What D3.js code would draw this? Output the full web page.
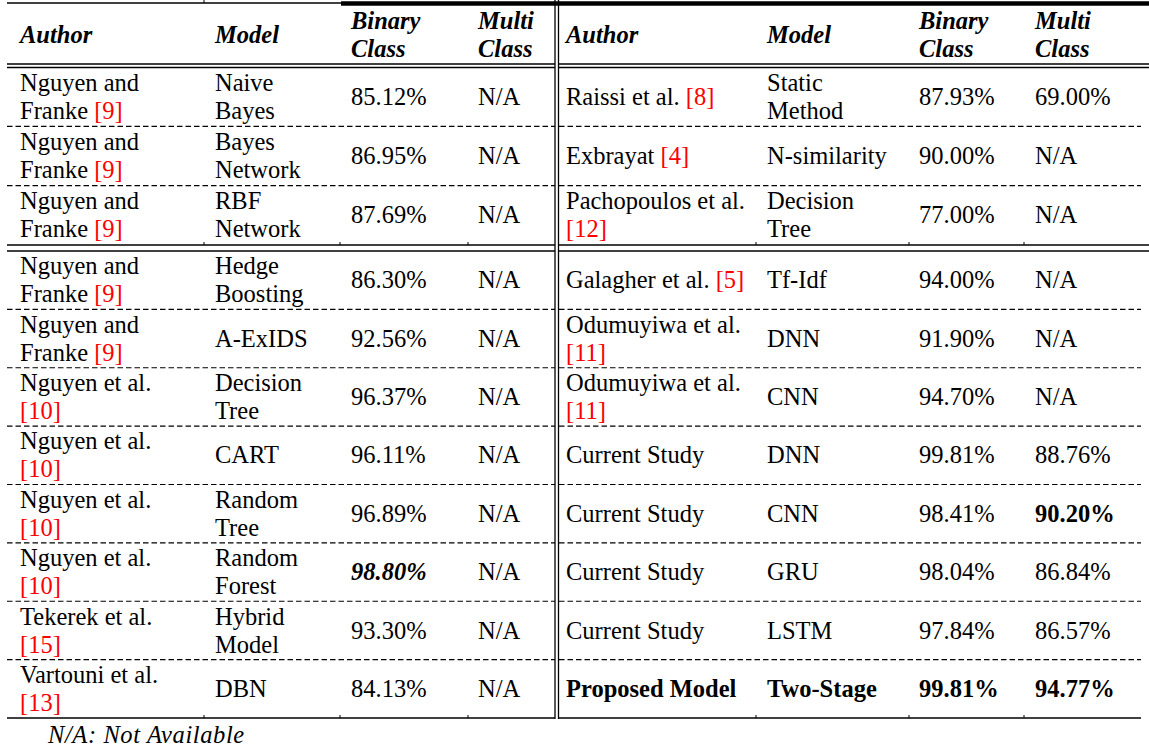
<!DOCTYPE html>
<html>
<head>
<meta charset="utf-8">
<script src="https://cdn.jsdelivr.net/npm/d3@7"></script>
<style>
  html, body { margin: 0; padding: 0; background: #fff; }
  svg { display: block; }
  text { font-family: "Liberation Serif", "Times New Roman", serif; font-size: 24.5px; fill: #000; }
</style>
</head>
<body>
<svg id="tbl"></svg>
<script>
// table content
const headers = ["Author", "Model", "Binary\nClass", "Multi\nClass"];

const leftAuthors = [
  "Nguyen and\nFranke [9]", "Nguyen and\nFranke [9]", "Nguyen and\nFranke [9]",
  "Nguyen and\nFranke [9]", "Nguyen and\nFranke [9]", "Nguyen et al.\n[10]",
  "Nguyen et al.\n[10]", "Nguyen et al.\n[10]", "Nguyen et al.\n[10]",
  "Tekerek et al.\n[15]", "Vartouni et al.\n[13]"
];
const leftModels = [
  "Naive\nBayes", "Bayes\nNetwork", "RBF\nNetwork", "Hedge\nBoosting", "A-ExIDS",
  "Decision\nTree", "CART", "Random\nTree", "Random\nForest", "Hybrid\nModel", "DBN"
];
const leftBinary = ["85.12%", "86.95%", "87.69%", "86.30%", "92.56%", "96.37%",
  "96.11%", "96.89%", "98.80%", "93.30%", "84.13%"];
const leftMulti = ["N/A", "N/A", "N/A", "N/A", "N/A", "N/A", "N/A", "N/A", "N/A", "N/A", "N/A"];

const rightAuthors = [
  "Raissi et al. [8]", "Exbrayat [4]", "Pachopoulos et al.\n[12]", "Galagher et al. [5]",
  "Odumuyiwa et al.\n[11]", "Odumuyiwa et al.\n[11]", "Current Study", "Current Study",
  "Current Study", "Current Study", "Proposed Model"
];
const rightModels = [
  "Static\nMethod", "N-similarity", "Decision\nTree", "Tf-Idf", "DNN", "CNN",
  "DNN", "CNN", "GRU", "LSTM", "Two-Stage"
];
const rightBinary = ["87.93%", "90.00%", "77.00%", "94.00%", "91.90%", "94.70%",
  "99.81%", "98.41%", "98.04%", "97.84%", "99.81%"];
const rightMulti = ["69.00%", "N/A", "N/A", "N/A", "N/A", "N/A",
  "88.76%", "90.20%", "86.84%", "86.57%", "94.77%"];

const footnote = "N/A: Not Available";

// emphasised cells: [side, row, col, style]
const emphasis = [
  ["L", 8, 2, "bi"],
  ["R", 7, 3, "b"],
  ["R", 10, 0, "b"], ["R", 10, 1, "b"], ["R", 10, 2, "b"], ["R", 10, 3, "b"]
];

// layout
const W = 1149, H = 752;
const lineGap = 28;
const svg = d3.select("#tbl").attr("width", W).attr("height", H);
svg.append("rect").attr("width", W).attr("height", H).attr("fill", "#fff");

const sides = {
  L: { edges: [7, 204, 340, 468, 555], textX: [20, 215, 351, 478], end: 555,
       cols: [leftAuthors, leftModels, leftBinary, leftMulti] },
  R: { edges: [559, 756, 909, 1024, 1141], textX: [566, 767, 919, 1035], end: 1149,
       cols: [rightAuthors, rightModels, rightBinary, rightMulti] }
};

const nRows = leftAuthors.length;
const y1 = d3.scaleLinear().domain([0, 3]).range([67, 245]);
const y2 = d3.scaleLinear().domain([3, nRows]).range([251, 718]);
const rowTop = i => i < 3 ? y1(i) : y2(i);
const rowBot = i => i < 2 ? y1(i + 1) : (i === 2 ? 245 : y2(i + 1));
const rowMid = i => (rowTop(i) + rowBot(i)) / 2;

function cellText(g, x, yc, str, style) {
  const lines = str.split("\n");
  lines.forEach((ln, k) => {
    const t = g.append("text")
      .attr("x", x)
      .attr("y", yc + (k - (lines.length - 1) / 2) * lineGap)
      .attr("dy", "0.33em");
    if (style && style.includes("b")) t.attr("font-weight", "bold");
    if (style && style.includes("i")) t.attr("font-style", "italic");
    ln.split(/(\[\d+\])/).filter(s => s.length).forEach(part => {
      const ts = t.append("tspan").text(part);
      if (/^\[\d+\]$/.test(part)) ts.attr("fill", "#ff0000");
    });
  });
}

const lines = svg.append("g").attr("stroke", "#000").attr("fill", "none");
const hline = (x0, x1, y, w, dash) => {
  const l = lines.append("line").attr("x1", x0).attr("x2", x1).attr("y1", y).attr("y2", y)
    .attr("stroke-width", w || 1.3);
  if (dash) l.attr("stroke-dasharray", dash);
};

// top rules
hline(7, 341, 3, 1.3);
hline(341, W, 3.5, 4.5);

// vertical double rule
[555, 558.5].forEach(x => {
  lines.append("line").attr("x1", x).attr("x2", x).attr("y1", 0).attr("y2", 719)
    .attr("stroke-width", 1.3);
});

Object.entries(sides).forEach(([key, s]) => {
  const x0 = s.edges[0], x1 = key === "L" ? 555 : s.end;
  const xr = key === "L" ? 555 : s.edges[4];
  // header double rule
  hline(x0, x1, 64, 1.3);
  hline(x0, x1, 67.5, 1.3);
  // group separator double rule
  hline(x0, x1, 245, 1.3);
  hline(x0, x1, 251, 1.3);
  // dashed row rules
  d3.range(nRows - 1).filter(i => i !== 2).forEach(i => {
    hline(x0, xr, rowBot(i), 1.1, "5.5,3");
  });
  // bottom rule
  hline(x0, xr, 718, 1.3);
  // small column ticks
  s.edges.slice(1, 4).forEach(x => {
    [245, 718].forEach(y => {
      lines.append("line").attr("x1", x).attr("x2", x).attr("y1", y - 3).attr("y2", y)
        .attr("stroke-width", 1);
    });
  });

  const g = svg.append("g");
  headers.forEach((h, c) => cellText(g, s.textX[c], 34.5, h, "bi"));
  s.cols.forEach((col, c) => {
    col.forEach((v, r) => {
      const e = emphasis.find(d => d[0] === key && d[1] === r && d[2] === c);
      cellText(g, s.textX[c], rowMid(r), v, e ? e[3] : "");
    });
  });
});

// top tick on thin rule
lines.append("line").attr("x1", 204).attr("x2", 204).attr("y1", 0).attr("y2", 3).attr("stroke-width", 1);

svg.append("text").attr("x", 48).attr("y", 735).attr("dy", "0.33em")
  .attr("font-style", "italic").attr("font-size", 26.5).attr("letter-spacing", 0.6)
  .text(footnote);
</script>
</body>
</html>
